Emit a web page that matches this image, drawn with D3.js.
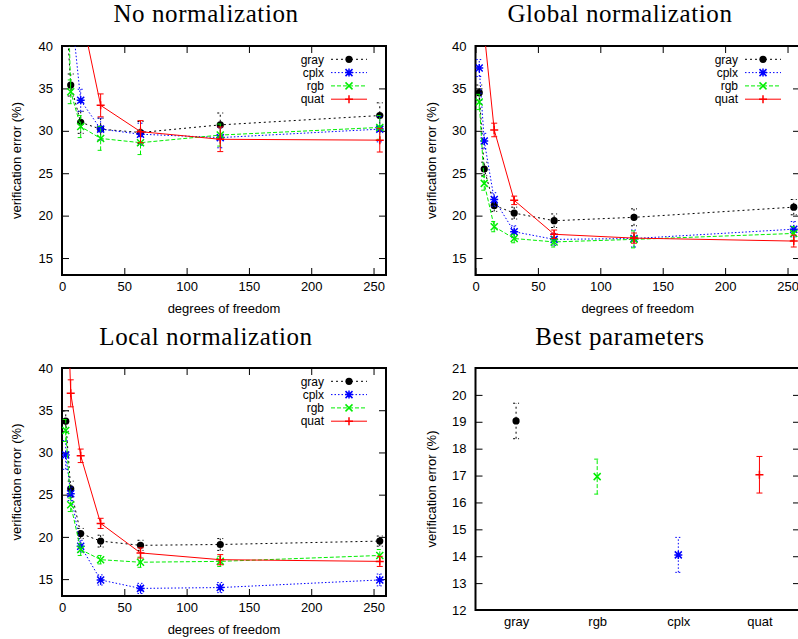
<!DOCTYPE html>
<html>
<head>
<meta charset="utf-8">
<script src="https://cdn.jsdelivr.net/npm/d3@7"></script>
<style>
body { margin: 0; background: #fff; }
text { font-family: "Liberation Sans", Arial, sans-serif; }
</style>
</head>
<body>
<svg id="chart" width="798" height="639"></svg>
<script>
// degrees of freedom sampled in the three curve panels
const dof = [3, 7, 15, 31, 63, 127, 255];

// No normalization
const noGray = [45.0, 35.4, 31.0, 30.2, 29.8, 30.7, 31.8];
const noCplx = [52.0, 45.0, 33.6, 30.2, 29.6, 29.2, 30.2];
const noRgb  = [56.0, 34.6, 30.5, 29.1, 28.6, 29.5, 30.4];
const noQuat = [60.0, 52.0, 44.2, 33.0, 29.9, 29.0, 28.9];
const noGrayErr = [1.4, 1.3, 1.3, 1.3, 1.3, 1.4, 1.5];
const noCplxErr = [1.4, 1.4, 1.3, 1.3, 1.3, 1.2, 1.5];
const noRgbErr  = [1.4, 1.4, 1.3, 1.4, 1.4, 1.3, 1.4];
const noQuatErr = [1.4, 1.4, 1.4, 1.35, 1.3, 1.45, 1.4];

// Global normalization
const glGray = [34.5, 25.5, 21.2, 20.3, 19.4, 19.8, 21.0];
const glCplx = [37.4, 28.8, 21.9, 18.1, 17.2, 17.3, 18.4];
const glRgb  = [33.4, 23.8, 18.7, 17.3, 16.9, 17.2, 17.9];
const glQuat = [50.0, 41.6, 30.1, 21.8, 17.8, 17.35, 17.0];
const glGrayErr = [0.9, 0.8, 0.7, 0.7, 0.8, 1.0, 0.9];
const glCplxErr = [1.0, 0.9, 0.8, 0.7, 0.7, 1.0, 0.9];
const glRgbErr  = [0.9, 0.8, 0.6, 0.5, 0.6, 1.0, 0.8];
const glQuatErr = [1.0, 0.9, 0.8, 0.5, 0.5, 0.6, 0.7];

// Local normalization
const loGray = [33.7, 25.7, 20.4, 19.5, 19.0, 19.1, 19.5];
const loCplx = [29.7, 25.1, 18.9, 14.9, 13.9, 14.0, 14.9];
const loRgb  = [32.6, 23.8, 18.5, 17.3, 17.0, 17.1, 17.8];
const loQuat = [55.0, 37.0, 29.6, 21.6, 18.1, 17.3, 17.1];
const loGrayErr = [1.2, 0.9, 0.6, 0.7, 0.6, 0.7, 0.6];
const loCplxErr = [1.7, 0.8, 0.7, 0.6, 0.6, 0.6, 0.7];
const loRgbErr  = [1.3, 0.8, 0.7, 0.5, 0.6, 0.6, 0.7];
const loQuatErr = [2.0, 1.6, 0.8, 0.6, 0.6, 0.6, 0.6];

// Best parameters
const bestCats = ["gray", "rgb", "cplx", "quat"];
const bestVals = [19.03, 16.96, 14.05, 17.03];
const bestErr  = [0.66, 0.65, 0.65, 0.68];

const curveTicksY = [15, 20, 25, 30, 35, 40];
const curveTicksX = [0, 50, 100, 150, 200, 250];
const bestTicksY = [12, 13, 14, 15, 16, 17, 18, 19, 20, 21];

const style = {
    gray: { color: "#000000", dash: "2,3", mark: "circle" },
    cplx: { color: "#0000ff", dash: "1.5,2", mark: "star" },
    rgb:  { color: "#00ee00", dash: "4,2", mark: "cross" },
    quat: { color: "#ff0000", dash: null, mark: "plus" }
};

const svg = d3.select("#chart");
let clipId = 0;

function marker(g, name, px, py) {
    let s = style[name];
    if (s.mark == "circle") {
        g.append("circle").attr("cx", px).attr("cy", py).attr("r", 3.6).attr("fill", s.color);
        return;
    }
    let d = "";
    if (s.mark == "plus" || s.mark == "star") d += "M-4,0H4M0,-4V4";
    if (s.mark == "cross" || s.mark == "star") d += "M-3.5,-3.5L3.5,3.5M-3.5,3.5L3.5,-3.5";
    g.append("path")
        .attr("transform", "translate(" + px + "," + py + ")")
        .attr("d", d)
        .attr("stroke", s.color)
        .attr("stroke-width", 1.5)
        .attr("fill", "none");
}

function errorBar(g, name, px, y0, y1) {
    let s = style[name];
    g.append("path")
        .attr("d", "M" + px + "," + y0 + "V" + y1 + "M" + (px - 3) + "," + y0 + "H" + (px + 3) + "M" + (px - 3) + "," + y1 + "H" + (px + 3))
        .attr("stroke", s.color)
        .attr("stroke-width", 1)
        .attr("stroke-dasharray", s.dash)
        .attr("fill", "none");
}

function styleAxis(a) {
    a.select(".domain").remove();
    a.selectAll("line").attr("stroke", "#000");
    a.selectAll("text").attr("font-size", "13px").attr("fill", "#000")
        .style("font-family", "'Liberation Sans', Arial, sans-serif");
}

function drawPanel(opt) {
    let w = opt.right - opt.left, h = opt.bottom - opt.top;
    let g = svg.append("g").attr("transform", "translate(" + opt.left + "," + opt.top + ")");
    let x = opt.x.range([0, w]);
    let y = d3.scaleLinear().domain(opt.yDomain).range([h, 0]);

    // axes with inward ticks, mirrored on the right / top
    styleAxis(g.append("g").call(d3.axisLeft(y).tickValues(opt.yTicks).tickSizeInner(-7).tickSizeOuter(0).tickPadding(9)));
    styleAxis(g.append("g").attr("transform", "translate(" + w + ",0)")
        .call(d3.axisRight(y).tickValues(opt.yTicks).tickSizeInner(-7).tickSizeOuter(0).tickFormat("")));
    let bottom = d3.axisBottom(x).tickValues(opt.xTicks).tickSizeOuter(0).tickPadding(7)
        .tickSizeInner(opt.xTickSize);
    if (opt.xFormat) bottom.tickFormat(opt.xFormat);
    styleAxis(g.append("g").attr("transform", "translate(0," + h + ")").call(bottom));
    if (opt.xTickSize != 0) {
        styleAxis(g.append("g").call(d3.axisTop(x).tickValues(opt.xTicks).tickSizeInner(-7).tickSizeOuter(0).tickFormat("")));
    }

    g.append("rect").attr("width", w).attr("height", h)
        .attr("fill", "none").attr("stroke", "#000").attr("stroke-width", 2);

    if (opt.xLabel) {
        g.append("text").attr("x", w / 2).attr("y", h + 38).attr("text-anchor", "middle")
            .attr("font-size", "13px").text(opt.xLabel);
    }
    svg.append("text")
        .attr("transform", "translate(" + opt.yLabelX + "," + (opt.top + h / 2) + ") rotate(-90)")
        .attr("text-anchor", "middle").attr("dy", "0.35em")
        .attr("font-size", "13px").text("verification error (%)");

    svg.append("text").attr("x", opt.titleX).attr("y", opt.titleY)
        .attr("text-anchor", "middle")
        .style("font-family", "'Liberation Serif', 'Times New Roman', serif")
        .style("letter-spacing", "0.6px")
        .attr("font-size", "25px").text(opt.title);

    clipId++;
    g.append("clipPath").attr("id", "clip" + clipId)
        .append("rect").attr("width", w).attr("height", h);
    let plot = g.append("g").attr("clip-path", "url(#clip" + clipId + ")");

    opt.series.forEach(function (s) {
        let st = style[s.name];
        let pts = s.xs.map(function (v, i) { return { x: v, v: s.vals[i], e: s.errs[i] }; });
        if (opt.lines) {
            plot.append("path")
                .attr("d", d3.line().x(function (d) { return x(d.x); }).y(function (d) { return y(d.v); })(pts))
                .attr("fill", "none").attr("stroke", st.color).attr("stroke-width", 1)
                .attr("stroke-dasharray", st.dash);
        }
        pts.forEach(function (d) {
            errorBar(plot, s.name, x(d.x), y(d.v - d.e), y(d.v + d.e));
            marker(plot, s.name, x(d.x), y(d.v));
        });
    });

    // legend, top right inside the frame
    if (opt.legend) {
        ["gray", "cplx", "rgb", "quat"].forEach(function (name, i) {
            let st = style[name];
            let ly = 13.3 * (i + 1);
            g.append("text").attr("x", w - 62).attr("y", ly).attr("dy", "0.35em")
                .attr("text-anchor", "end").attr("font-size", "12px").text(name);
            g.append("line").attr("x1", w - 55).attr("x2", w - 19).attr("y1", ly).attr("y2", ly)
                .attr("stroke", st.color).attr("stroke-width", 1).attr("stroke-dasharray", st.dash);
            marker(g, name, w - 37, ly);
        });
    }
}

function curveSeries(gray, cplx, rgb, quat, eg, ec, er, eq) {
    return [
        { name: "gray", xs: dof, vals: gray, errs: eg },
        { name: "cplx", xs: dof, vals: cplx, errs: ec },
        { name: "rgb", xs: dof, vals: rgb, errs: er },
        { name: "quat", xs: dof, vals: quat, errs: eq }
    ];
}

const curveBase = {
    yDomain: [13, 40], yTicks: curveTicksY, xTicks: curveTicksX, xTickSize: -7,
    xLabel: "degrees of freedom", lines: true, legend: true
};

drawPanel(Object.assign({}, curveBase, {
    left: 62, right: 386, top: 46, bottom: 275,
    x: d3.scaleLinear().domain([0, 260]),
    yLabelX: 16, title: "No normalization", titleX: 206, titleY: 22,
    series: curveSeries(noGray, noCplx, noRgb, noQuat, noGrayErr, noCplxErr, noRgbErr, noQuatErr)
}));

drawPanel(Object.assign({}, curveBase, {
    left: 475.5, right: 800, top: 46, bottom: 275,
    x: d3.scaleLinear().domain([0, 260]),
    yLabelX: 431, title: "Global normalization", titleX: 620, titleY: 22,
    series: curveSeries(glGray, glCplx, glRgb, glQuat, glGrayErr, glCplxErr, glRgbErr, glQuatErr)
}));

drawPanel(Object.assign({}, curveBase, {
    left: 62, right: 386, top: 368, bottom: 596,
    x: d3.scaleLinear().domain([0, 260]),
    yLabelX: 16, title: "Local normalization", titleX: 206, titleY: 344.5,
    series: curveSeries(loGray, loCplx, loRgb, loQuat, loGrayErr, loCplxErr, loRgbErr, loQuatErr)
}));

drawPanel({
    left: 475.5, right: 800, top: 368, bottom: 610,
    x: d3.scaleLinear().domain([0.5, 4.5]),
    xTicks: [1, 2, 3, 4], xTickSize: 0,
    xFormat: function (d) { return bestCats[d - 1]; },
    yDomain: [12, 21], yTicks: bestTicksY,
    yLabelX: 431, title: "Best parameters", titleX: 620, titleY: 344.5,
    lines: false, legend: false,
    series: bestCats.map(function (c, i) {
        return { name: c, xs: [i + 1], vals: [bestVals[i]], errs: [bestErr[i]] };
    })
});
</script>
</body>
</html>
